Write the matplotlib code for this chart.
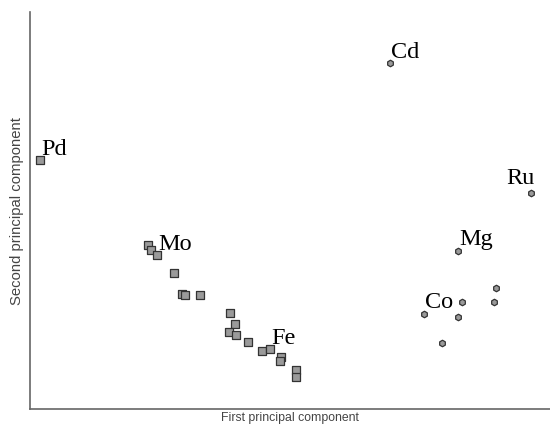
import matplotlib
matplotlib.use("Agg")
import matplotlib.pyplot as plt

# Group 1 (squares): first / second principal component scores
sq_x = [40, 148, 151, 157, 174, 182, 185, 200, 230, 235, 229, 236, 248, 262, 270, 281, 280, 296, 296]
sq_y = [249, 164, 159, 154, 136, 115, 114, 114, 96, 85, 77, 74, 67, 58, 60, 52, 48, 39, 32]
sq_labels = {0: "Pd", 3: "Mo", 14: "Fe"}

# Group 2 (hexagons)
hx_x = [390, 531, 458, 496, 462, 494, 424, 458, 442]
hx_y = [346, 216, 158, 121, 107, 107, 95, 92, 66]
hx_labels = {0: "Cd", 1: "Ru", 2: "Mg", 6: "Co"}

fig = plt.figure(figsize=(5.5, 4.25), dpi=100)
ax = fig.add_axes([0.0545, 0.0376, 0.945, 0.934])

ax.scatter(sq_x, sq_y, marker="s", s=28, facecolor="#9a9a9a", edgecolor="#333333", linewidths=0.9, zorder=3)
ax.scatter(hx_x, hx_y, marker="h", s=22, facecolor="#9a9a9a", edgecolor="#333333", linewidths=0.9, zorder=3)

lab_kw = dict(fontsize=17.5, family="Liberation Serif", color="black")
for i, t in sq_labels.items():
    ax.annotate(t, (sq_x[i], sq_y[i]), xytext=(0.8, 3.8), textcoords="offset points",
                ha="left", va="baseline", **lab_kw)
for i, t in hx_labels.items():
    if t == "Ru":
        ax.annotate(t, (hx_x[i], hx_y[i]), xytext=(3, 6.5), textcoords="offset points",
                    ha="right", va="baseline", **lab_kw)
    else:
        ax.annotate(t, (hx_x[i], hx_y[i]), xytext=(0.8, 4.0), textcoords="offset points",
                    ha="left", va="baseline", **lab_kw)

ax.set_xlim(30, 550)
ax.set_ylim(0, 397)
ax.set_xticks([])
ax.set_yticks([])
for s in ["top", "right"]:
    ax.spines[s].set_visible(False)
for s in ["left", "bottom"]:
    ax.spines[s].set_color("#666666")
    ax.spines[s].set_linewidth(1.2)

ax.set_xlabel("First principal component", fontsize=8.8, color="#444444", family="Liberation Sans", labelpad=2)
ax.set_ylabel("Second principal component", fontsize=10.7, color="#444444", family="Liberation Sans", labelpad=4)

fig.savefig("out.png", dpi=100)
